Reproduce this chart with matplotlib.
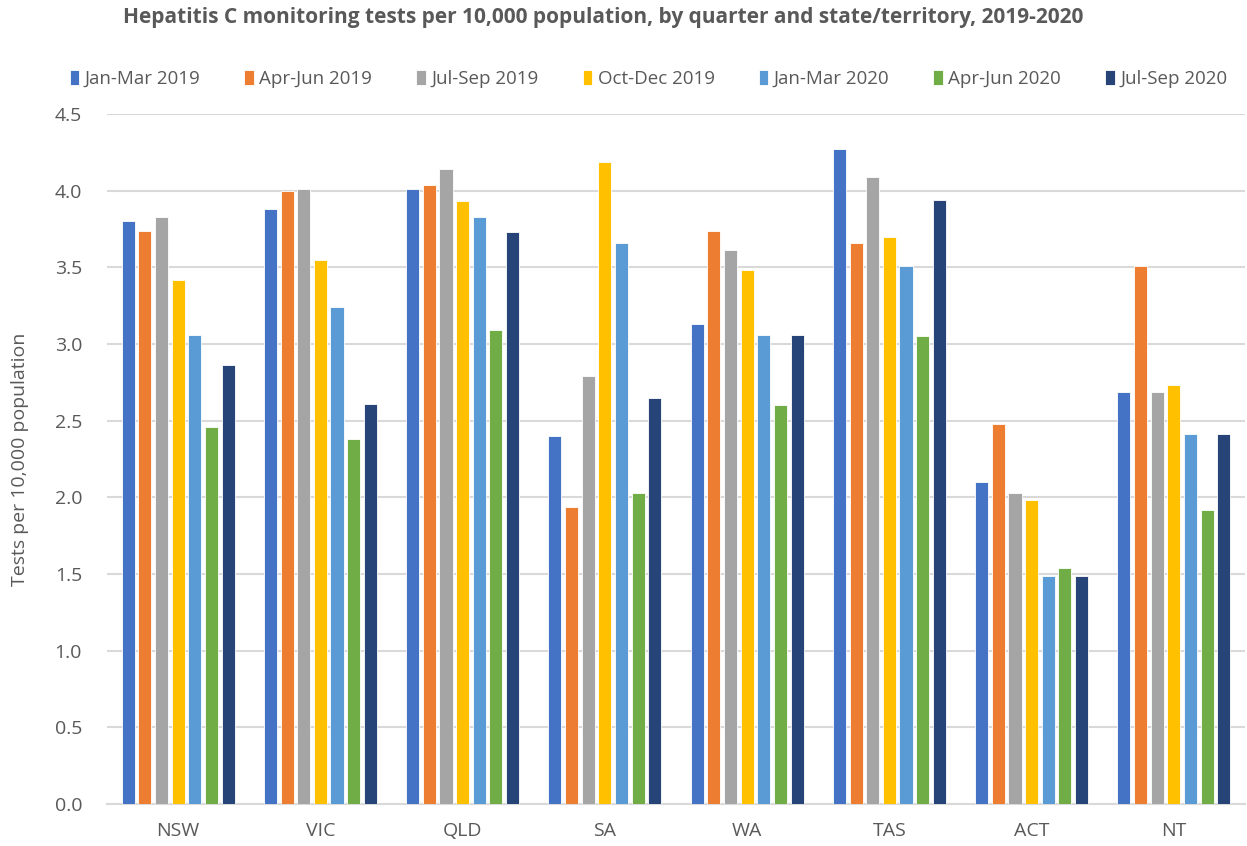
import numpy as np
import matplotlib
matplotlib.use("Agg")
import matplotlib.pyplot as plt

plt.rcParams["font.family"] = ["Liberation Sans Narrow", "Open Sans", "DejaVu Sans"]

states = ["NSW", "VIC", "QLD", "SA", "WA", "TAS", "ACT", "NT"]
quarters = ["Jan-Mar 2019", "Apr-Jun 2019", "Jul-Sep 2019", "Oct-Dec 2019",
            "Jan-Mar 2020", "Apr-Jun 2020", "Jul-Sep 2020"]

jan_mar_2019 = [3.80, 3.88, 4.01, 2.40, 3.13, 4.27, 2.10, 2.69]
apr_jun_2019 = [3.74, 4.00, 4.04, 1.94, 3.74, 3.66, 2.48, 3.51]
jul_sep_2019 = [3.83, 4.01, 4.14, 2.79, 3.61, 4.09, 2.03, 2.69]
oct_dec_2019 = [3.42, 3.55, 3.93, 4.19, 3.48, 3.70, 1.98, 2.73]
jan_mar_2020 = [3.06, 3.24, 3.83, 3.66, 3.06, 3.51, 1.49, 2.41]
apr_jun_2020 = [2.46, 2.38, 3.09, 2.03, 2.60, 3.05, 1.54, 1.92]
jul_sep_2020 = [2.86, 2.61, 3.73, 2.65, 3.06, 3.94, 1.49, 2.41]

series = [jan_mar_2019, apr_jun_2019, jul_sep_2019, oct_dec_2019,
          jan_mar_2020, apr_jun_2020, jul_sep_2020]
colors = ["#4472C4", "#ED7D31", "#A5A5A5", "#FFC000",
          "#5B9BD5", "#70AD47", "#264478"]

TXT = "#595959"
GRID = "#D9D9D9"

fig = plt.figure(figsize=(12.47, 8.46), dpi=100)
ax = fig.add_axes([107 / 1247, 1 - 804 / 846, (1245 - 107) / 1247, (804 - 114) / 846])

x = np.arange(len(states))
step = 0.117
width = 0.092
for i, (vals, col, lab) in enumerate(zip(series, colors, quarters)):
    offs = (i - 3) * step
    ax.bar(x + offs, vals, width=width, color=col, label=lab,
           edgecolor="white", linewidth=0.6, zorder=3)

ax.set_xlim(-0.5, len(states) - 0.5)
ax.set_ylim(0, 4.5)
ax.set_yticks(np.arange(0, 4.51, 0.5))
ax.set_yticklabels([f"{v:.1f}" for v in np.arange(0, 4.51, 0.5)])
ax.set_xticks(x)
ax.set_xticklabels(states)
ax.tick_params(axis="both", length=0, labelsize=14, colors=TXT)
ax.tick_params(axis="x", pad=13)
ax.tick_params(axis="y", pad=18)

ax.grid(axis="y", color=GRID, linewidth=1.5, zorder=0)
for s in ["top", "right", "left"]:
    ax.spines[s].set_visible(False)
ax.spines["bottom"].set_color(GRID)
ax.spines["bottom"].set_linewidth(1.5)

ax.set_ylabel("Tests per 10,000 population", fontsize=14, color=TXT, labelpad=18)

fig.text(0.484, 1 - 18 / 846, "Hepatitis C monitoring tests per 10,000 population, by quarter and state/territory, 2019-2020",
         ha="center", va="center", fontsize=15, fontweight="bold", color=TXT)

fig.legend(loc="center", bbox_to_anchor=(0.52, 1 - 79 / 846), ncol=7, frameon=False,
           fontsize=13.5, handlelength=0.5, handleheight=0.8, handletextpad=0.3,
           columnspacing=2.35, labelcolor=TXT)

fig.savefig("out.png", dpi=100, facecolor="white")
